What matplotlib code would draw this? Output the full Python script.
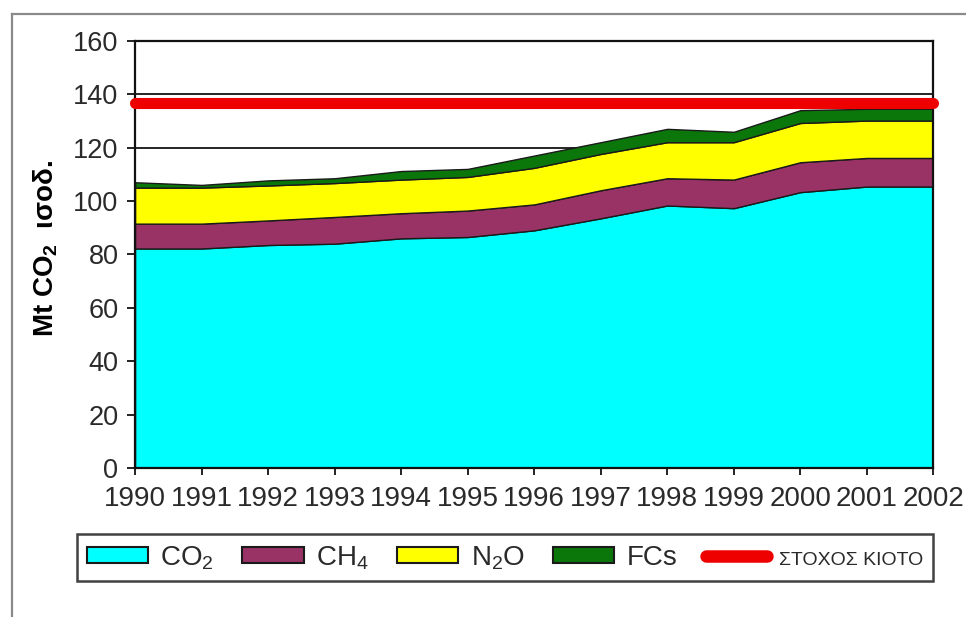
import matplotlib.pyplot as plt
from matplotlib.lines import Line2D
from matplotlib.patches import Patch

# Greenhouse gas emissions per gas, stacked (Mt CO2 eq.)
years = [1990, 1991, 1992, 1993, 1994, 1995, 1996, 1997, 1998, 1999, 2000, 2001, 2002]
co2 = [82.2, 82.2, 83.5, 84.0, 86.0, 86.5, 89.0, 93.5, 98.3, 97.3, 103.3, 105.4, 105.4]
ch4 = [9.3, 9.3, 9.2, 10.0, 9.4, 9.9, 9.7, 10.5, 10.2, 10.7, 11.2, 10.7, 10.7]
n2o = [13.5, 13.5, 13.1, 12.7, 12.6, 12.6, 13.7, 13.6, 13.5, 14.0, 14.7, 14.0, 14.0]
fcs = [2.0, 1.0, 1.9, 1.8, 3.2, 3.0, 4.6, 4.4, 5.0, 3.9, 4.8, 4.4, 4.4]
kyoto_target = 136.8

gas_labels = ['CO$_2$', 'CH$_4$', 'N$_2$O', 'FCs']
gas_colors = ['#00ffff', '#993366', '#ffff00', '#0b770b']
target_label = 'ΣΤΟΧΟΣ ΚΙΟΤΟ'
yticks = [0, 20, 40, 60, 80, 100, 120, 140, 160]

plt.rcParams['font.family'] = ['Liberation Sans', 'DejaVu Sans']
plt.rcParams['mathtext.default'] = 'regular'

fig = plt.figure(figsize=(9.66, 6.17), dpi=100)
ax = fig.add_axes([0.1398, 0.2415, 0.8265, 0.6925])

# grey frame around the picture (top and left edges only are visible)
fig.add_artist(Line2D([0.0124, 1.0], [0.977, 0.977], transform=fig.transFigure, color='#8a8a8a', lw=1.6))
fig.add_artist(Line2D([0.0124, 0.0124], [0.0, 0.977], transform=fig.transFigure, color='#8a8a8a', lw=1.6))

# stacked areas
ax.stackplot(years, co2, ch4, n2o, fcs, colors=gas_colors, edgecolor='#1a1a1a', linewidth=1.0, zorder=2)

# kyoto target line
ax.plot([years[0], years[-1]], [kyoto_target, kyoto_target], color='#ee0000', lw=8,
        solid_capstyle='round', zorder=4, clip_on=False)

ax.set_xlim(years[0], years[-1])
ax.set_ylim(0, 160)
ax.set_xticks(years)
ax.set_yticks(yticks)
ax.grid(axis='y', color='black', lw=1.2)
ax.set_axisbelow(True)

for side in ['left', 'right', 'top', 'bottom']:
    ax.spines[side].set_linewidth(1.6)
    ax.spines[side].set_color('#111111')

ax.tick_params(axis='x', direction='out', length=5, width=1.3, pad=8, labelsize=20, colors='#111111', labelcolor='#2a2a2a')
ax.tick_params(axis='y', direction='out', length=6, width=1.3, pad=6, labelsize=19.5, colors='#111111', labelcolor='#2a2a2a')

ax.set_ylabel('Mt CO$_2$  ισοδ.', fontsize=20, fontweight='bold', va='center')
ax.yaxis.set_label_coords(-0.112, 0.515)

# legend below the chart
handles = [Patch(facecolor=c, edgecolor='#1a1a1a', lw=1.5) for c in gas_colors]
handles.append(Line2D([0], [0], color='#ee0000', lw=9, solid_capstyle='round'))
leg = fig.legend(handles, gas_labels + [target_label], loc='upper left', bbox_to_anchor=(0.0797, 0.134),
                 ncol=5, fontsize=20, frameon=True, fancybox=False, edgecolor='#111111',
                 handlelength=2.2, handleheight=0.5, handletextpad=0.45, columnspacing=1.02,
                 borderpad=0.35, borderaxespad=0)
leg.get_frame().set_linewidth(1.8)
leg.get_texts()[4].set_fontsize(14)
for t in leg.get_texts():
    t.set_color('#2a2a2a')

plt.savefig('out.png', dpi=100)
